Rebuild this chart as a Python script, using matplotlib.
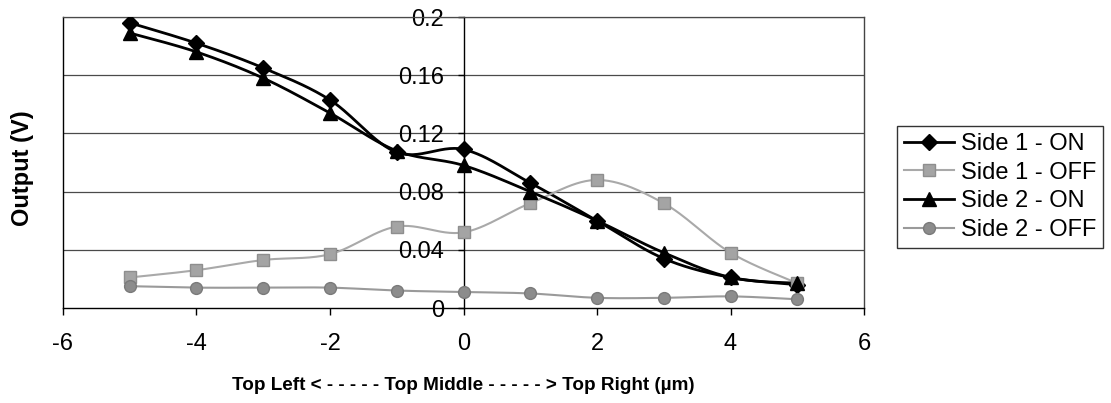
import numpy as np
import matplotlib
matplotlib.use("Agg")
import matplotlib.pyplot as plt
from matplotlib import font_manager

plt.rcParams['font.family'] = ['Liberation Sans', 'DejaVu Sans']

# Measured output voltage along the top edge of the sensor
positions = [-5, -4, -3, -2, -1, 0, 1, 2, 3, 4, 5]
side1_on = [0.196, 0.182, 0.165, 0.143, 0.107, 0.109, 0.086, 0.060, 0.034, 0.021, 0.016]
side1_off = [0.021, 0.026, 0.033, 0.037, 0.056, 0.052, 0.072, 0.088, 0.072, 0.038, 0.017]
side2_on = [0.189, 0.176, 0.158, 0.134, 0.108, 0.098, 0.080, 0.060, 0.038, 0.021, 0.017]
side2_off = [0.015, 0.014, 0.014, 0.014, 0.012, 0.011, 0.010, 0.007, 0.007, 0.008, 0.006]

series_names = ["Side 1 - ON", "Side 1 - OFF", "Side 2 - ON", "Side 2 - OFF"]
x_ticks = [-6, -4, -2, 0, 2, 4, 6]
x_tick_labels = ["-6", "-4", "-2", "0", "2", "4", "6"]
y_ticks = [0, 0.04, 0.08, 0.12, 0.16, 0.2]
y_tick_labels = ["0", "0.04", "0.08", "0.12", "0.16", "0.2"]

FS = 17


def smooth(xs, ys, n=30):
    """Catmull-Rom style Bezier smoothing through every data point."""
    xs = np.asarray(xs, float)
    ys = np.asarray(ys, float)
    pts = np.column_stack([xs, ys])
    ext = np.vstack([pts[0], pts, pts[-1]])
    out = [pts[0]]
    t = np.linspace(0, 1, n)[1:, None]
    for i in range(len(pts) - 1):
        p0, p1, p2, p3 = ext[i], ext[i + 1], ext[i + 2], ext[i + 3]
        c1 = p1 + (p2 - p0) / 6.0
        c2 = p2 - (p3 - p1) / 6.0
        seg = ((1 - t) ** 3) * p1 + 3 * ((1 - t) ** 2) * t * c1 \
            + 3 * (1 - t) * t ** 2 * c2 + t ** 3 * p2
        out.extend(seg)
    out = np.array(out)
    return out[:, 0], out[:, 1]


fig = plt.figure(figsize=(11.11, 4.03), dpi=100)
ax = fig.add_axes([0.0567, 0.2357, 0.7210, 0.7221])

grid_color = "#4a4a4a"
for yv in y_ticks[1:]:
    ax.axhline(yv, color=grid_color, lw=0.9, zorder=1)

styles = [
    dict(values=side1_on, color="black", lw=2.0, marker="D", ms=8.5,
         mfc="black", mec="black"),
    dict(values=side1_off, color="#a9a9a9", lw=1.5, marker="s", ms=8.5,
         mfc="#a4a4a4", mec="#8e8e8e"),
    dict(values=side2_on, color="black", lw=2.0, marker="^", ms=10,
         mfc="black", mec="black"),
    dict(values=side2_off, color="#9a9a9a", lw=1.5, marker="o", ms=8.5,
         mfc="#8c8c8c", mec="#7a7a7a"),
]

handles = []
for name, st in zip(series_names, styles):
    sx, sy = smooth(positions, st["values"])
    ax.plot(sx, sy, color=st["color"], lw=st["lw"], zorder=3,
            solid_capstyle="round")
    ax.plot(positions, st["values"], linestyle="none", marker=st["marker"],
            ms=st["ms"], mfc=st["mfc"], mec=st["mec"], zorder=4)
    h, = ax.plot([], [], color=st["color"], lw=st["lw"], marker=st["marker"],
                 ms=st["ms"], mfc=st["mfc"], mec=st["mec"], label=name)
    handles.append(h)

ax.set_xlim(-6, 6)
ax.set_ylim(0, 0.2)

# vertical value axis crosses at x = 0; box line on the left edge
ax.spines["left"].set_position(("data", 0))
ax.spines["left"].set_linewidth(1.0)
ax.spines["left"].set_zorder(2)
ax.axvline(-6, color="black", lw=1.0, clip_on=False, zorder=2)
ax.spines["right"].set_color("#444444")
ax.spines["right"].set_linewidth(1.0)
ax.spines["top"].set_color(grid_color)
ax.spines["top"].set_linewidth(0.9)
ax.spines["bottom"].set_linewidth(1.0)

ax.set_xticks(x_ticks)
ax.set_xticklabels(x_tick_labels, fontsize=FS)
ax.set_yticks(y_ticks)
ax.set_yticklabels(y_tick_labels, fontsize=FS)
ax.tick_params(axis="x", direction="out", length=5, width=1.0, pad=13)
ax.tick_params(axis="y", direction="out", length=4, width=1.0, pad=10)

# axis titles
installed = {f.name for f in font_manager.fontManager.ttflist}
if "Liberation Sans Narrow" in installed:
    xlab_family, xlab_size = ["Liberation Sans Narrow"], FS
else:
    xlab_family, xlab_size = ["Liberation Sans"], 13.6
fig.text(463.5 / 1111, 1 - 385 / 403,
         "Top Left < - - - - - Top Middle - - - - - > Top Right (µm)",
         family=xlab_family, fontsize=xlab_size, fontweight="bold",
         ha="center", va="center")
fig.text(22 / 1111, 1 - 168 / 403, "Output (V)", rotation=90, fontsize=FS,
         fontweight="bold", ha="center", va="center")

leg = fig.legend(handles=handles, loc="upper left",
                 bbox_to_anchor=(897 / 1111, 1 - 126 / 403), fontsize=FS,
                 frameon=True, fancybox=False, edgecolor="black",
                 handlelength=2.1, handletextpad=0.3, labelspacing=0.28,
                 borderpad=0.3, borderaxespad=0.0)
leg.get_frame().set_linewidth(1.0)

fig.savefig("out.png", dpi=100, facecolor="white")
